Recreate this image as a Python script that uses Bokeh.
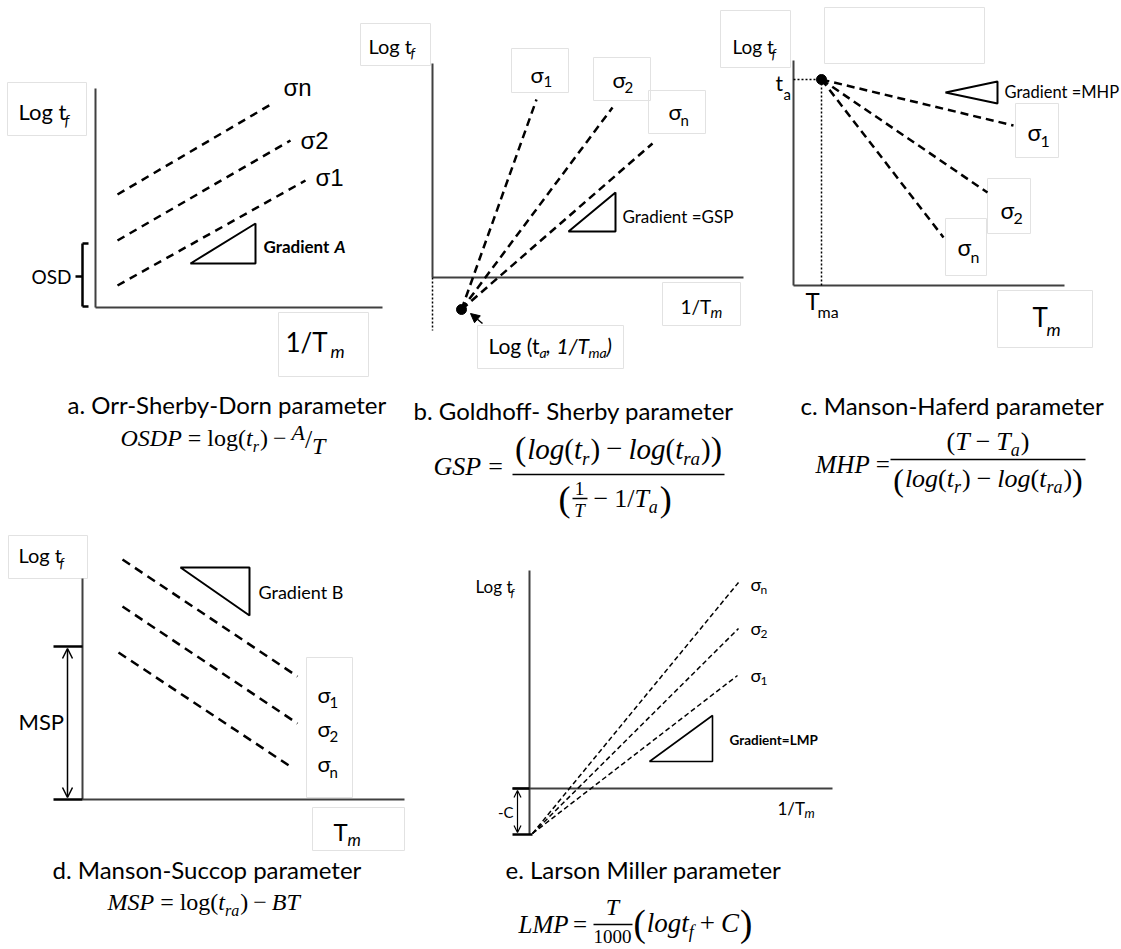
from bokeh.plotting import figure
from bokeh.models import Range1d, ColumnDataSource, Arrow, NormalHead, OpenHead
from bokeh.core.properties import value
from bokeh.embed import file_html
from bokeh.resources import INLINE

# ------------------------------------------------------------------
# Diagram geometry (reference pixel space: x right, y down)
# ------------------------------------------------------------------
# axes: (x0, y0, x1, y1)
AXES_X0 = [95, 95, 432, 432, 793, 793, 82, 82, 529, 512]
AXES_Y0 = [88, 307, 63, 277, 60, 285, 578, 799, 570, 788]
AXES_X1 = [95, 382, 432, 743, 793, 1064, 82, 404, 529, 832]
AXES_Y1 = [307, 307, 277, 277, 285, 285, 799, 799, 834, 788]

# a. Orr-Sherby-Dorn : parallel iso-stress lines (sigma1, sigma2, sigma_n)
A_X0 = [117, 117, 117]
A_Y0 = [285, 240, 194]
A_X1 = [305, 290, 272]
A_Y1 = [180, 140, 103]
A_TRI_X = [190, 255, 255]
A_TRI_Y = [263, 223, 263]

# b. Goldhoff-Sherby : lines converging at (1/Tma, log ta)
B_ORIGIN = (461, 309)
B_X1 = [536, 612, 652]
B_Y1 = [99, 107, 143]
B_TRI_X = [568, 615, 615]
B_TRI_Y = [231, 192, 231]

# c. Manson-Haferd : lines diverging from (Tma, ta)
C_ORIGIN = (821, 79)
C_X1 = [1013, 987, 943]
C_Y1 = [125, 192, 237]
C_TRI_X = [945, 997, 997]
C_TRI_Y = [92, 81, 103]

# d. Manson-Succop : parallel descending lines
D_X0 = [122, 122, 118]
D_Y0 = [559, 606, 652]
D_X1 = [297, 297, 293]
D_Y1 = [676, 723, 768]
D_TRI_X = [180, 249, 249]
D_TRI_Y = [567, 567, 615]

# e. Larson-Miller : lines converging at (0, -C)
E_ORIGIN = (532, 833)
E_X1 = [738, 738, 737]
E_Y1 = [582, 628, 675]
E_TRI_X = [649, 712, 712]
E_TRI_Y = [761, 715, 761]

# faint text-box outlines (left, right, top, bottom)
BOX_L = [7, 278, 360, 511, 593, 648, 477, 662, 720, 824, 1015, 987, 945, 997, 8, 306, 312]
BOX_R = [86, 368, 430, 568, 650, 705, 623, 740, 790, 984, 1058, 1030, 986, 1092, 87, 352, 404]
BOX_T = [82, 312, 23, 48, 57, 90, 325, 282, 10, 7, 103, 178, 218, 290, 535, 657, 807]
BOX_B = [135, 376, 65, 92, 100, 133, 368, 325, 67, 63, 157, 233, 275, 347, 578, 797, 850]

CAPTIONS = ["a. Orr-Sherby-Dorn parameter", "b. Goldhoff- Sherby parameter",
            "c. Manson-Haferd parameter", "d. Manson-Succop parameter",
            "e. Larson Miller parameter"]
CAPTION_X = [67, 413, 800, 52, 505]
CAPTION_Y = [413, 419, 414, 878, 878]

SANS = "Lato"
SERIF = "Liberation Serif"
ARIAL = "Liberation Sans"
INK = "black"
AXIS_INK = "#404040"
BOX_INK = "#e2e2e2"
# distance (in em) from the alphabetic baseline up to the middle of the em box
MID = {SANS: 0.387, SERIF: 0.34, ARIAL: 0.35}

p = figure(width=1121, height=949, x_range=Range1d(0, 1121), y_range=Range1d(949, 0),
           output_backend="svg", toolbar_location=None, min_border=0,
           x_axis_type=None, y_axis_type=None)
p.grid.visible = False
p.outline_line_color = None
p.background_fill_color = "white"
p.border_fill_color = "white"

# boxes
p.quad(left=BOX_L, right=BOX_R, top=BOX_T, bottom=BOX_B, fill_color=None,
       line_color=BOX_INK, line_width=1)

# axes
p.segment(x0=AXES_X0, y0=AXES_Y0, x1=AXES_X1, y1=AXES_Y1, line_color=AXIS_INK, line_width=2)

# dashed iso-stress lines
p.segment(x0=A_X0, y0=A_Y0, x1=A_X1, y1=A_Y1, line_color=INK, line_width=2.5, line_dash="8 6")
p.segment(x0=[B_ORIGIN[0]] * 3, y0=[B_ORIGIN[1]] * 3, x1=B_X1, y1=B_Y1,
          line_color=INK, line_width=2.5, line_dash="8 5")
p.segment(x0=[C_ORIGIN[0]] * 3, y0=[C_ORIGIN[1]] * 3, x1=C_X1, y1=C_Y1,
          line_color=INK, line_width=2.5, line_dash="8 5")
p.segment(x0=D_X0, y0=D_Y0, x1=D_X1, y1=D_Y1, line_color=INK, line_width=2.5, line_dash="9 6")
p.segment(x0=[E_ORIGIN[0]] * 3, y0=[E_ORIGIN[1]] * 3, x1=E_X1, y1=E_Y1,
          line_color=INK, line_width=1.5, line_dash="5 3")

# gradient triangles
for tx, ty, lw in [(A_TRI_X, A_TRI_Y, 2), (B_TRI_X, B_TRI_Y, 2), (C_TRI_X, C_TRI_Y, 2),
                   (D_TRI_X, D_TRI_Y, 2), (E_TRI_X, E_TRI_Y, 1.6)]:
    p.patch(x=tx + [tx[0]], y=ty + [ty[0]], fill_color=None, fill_alpha=0,
            line_color=INK, line_width=lw)

# dotted guides
p.segment(x0=[432, 793, 821], y0=[277, 79, 79], x1=[432, 821, 821], y1=[330, 79, 285],
          line_color=INK, line_width=1.5, line_dash="2 2")

# origin dots
p.scatter(x=[B_ORIGIN[0], C_ORIGIN[0]], y=[B_ORIGIN[1], C_ORIGIN[1]], size=10,
          marker="circle", color=INK)

# OSD brace, MSP and -C extent ticks
p.segment(x0=[82, 82, 82, 75, 53, 53, 512, 512],
          y0=[243, 243, 306, 276, 646, 799, 788, 834],
          x1=[82, 88, 88, 82, 82, 82, 529, 532],
          y1=[306, 243, 306, 276, 646, 799, 788, 834],
          line_color=INK, line_width=2.5)

# arrows
p.add_layout(Arrow(end=NormalHead(size=9, fill_color=INK, line_color=INK),
                   x_start=482, y_start=323, x_end=470, y_end=313, line_width=1.5, line_color=INK))
p.add_layout(Arrow(start=OpenHead(size=10, line_width=1.5), end=OpenHead(size=10, line_width=1.5),
                   x_start=67, y_start=648, x_end=67, y_end=797, line_width=1.5, line_color=INK))
p.add_layout(Arrow(start=OpenHead(size=7, line_width=1.2), end=OpenHead(size=7, line_width=1.2),
                   x_start=517, y_start=790, x_end=517, y_end=832, line_width=1.2, line_color=INK))

# ------------------------------------------------------------------
# text (positions given as alphabetic baselines, converted to em-box middles)
# ------------------------------------------------------------------
TX, TY, TS, TF, TZ, TST, TA = [], [], [], [], [], [], []


def T(x, y, s, size, font=SANS, style="normal", align="left"):
    TX.append(x); TY.append(y - MID[font] * size); TS.append(s); TF.append(font)
    TZ.append(f"{size}px"); TST.append(style); TA.append(align)


ROMAN = {'l': .278, 'o': .5, 'g': .5, '(': .333, ')': .333, '=': .564, '−': .564,
         '/': .278, '1': .5, '0': .5, ' ': .25, '+': .564}
ITALIC = {'O': .722, 'S': .5, 'D': .722, 'P': .611, 'l': .278, 'o': .5, 'g': .5, 't': .278,
          'r': .389, 'a': .5, 'A': .611, 'T': .556, 'G': .722, 'M': .833, 'H': .722,
          'C': .667, 'B': .611, 'f': .278, 'm': .722}


def wid(s, it, size):
    tbl = ITALIC if it else ROMAN
    return sum(tbl.get(c, .5) for c in s) * size


def fwidth(parts):
    return sum(g + wid(s, it, z) for s, it, z, dy, g in parts)


def formula(x0, y0, parts):
    x = x0
    for s, it, z, dy, g in parts:
        x += g
        T(x, y0 + dy, s, z, SERIF, "italic" if it else "normal")
        x += wid(s, it, z)
    return x


# captions
for s, x, y in zip(CAPTIONS, CAPTION_X, CAPTION_Y):
    T(x, y, s, 24)

# --- panel a
T(18, 120, "Log t", 22); T(64, 125, "f", 15, style="italic")
T(315, 185, "σ1", 24, ARIAL); T(300, 148, "σ2", 24, ARIAL); T(283, 95, "σn", 24, ARIAL)
T(263, 253, "Gradient", 17, style="bold"); T(334, 253, "A", 17, style="bold italic")
T(71, 283, "OSD", 19, align="right")
T(285, 352, "1/T", 26); T(330, 357, "m", 18, style="italic")
formula(120, 446, [("OSDP", 1, 24, 0, 0), ("=", 0, 24, 0, 6), ("log(", 0, 24, 0, 6),
                   ("t", 1, 24, 0, 0), ("r", 1, 16, 5, 0), (")", 0, 24, 0, 1),
                   ("−", 0, 24, 0, 5), ("A", 1, 22, -7, 5), ("/", 0, 26, 2, 0),
                   ("T", 1, 24, 8, 0)])

# --- panel b
T(368, 53, "Log t", 20); T(410, 57, "f", 14, style="italic")
T(530, 83, "σ", 22); T(543, 87, "1", 15)
T(612, 88, "σ", 22); T(624, 93, "2", 15)
T(668, 120, "σ", 22); T(680, 125, "n", 15)
T(622, 223, "Gradient =GSP", 17)
T(488, 353, "Log (t", 21); T(539, 357, "a", 14, style="italic"); T(545, 353, ",", 21)
T(556, 353, "1/T", 21, style="italic"); T(588, 357, "ma", 14, style="italic")
T(606, 353, ")", 21, style="italic")
T(680, 313, "1/T", 19); T(710, 317, "m", 15, style="italic")
formula(433, 475, [("GSP", 1, 26, 0, 0), ("=", 0, 26, 0, 7)])
GSP_BAR = (512, 724, 474)
num = [("(", 0, 34, 2, 0), ("log", 1, 29, 0, 1), ("(", 0, 29, 0, 0), ("t", 1, 29, 0, 0),
       ("r", 1, 19, 6, 0), (")", 0, 29, 0, 1), ("−", 0, 29, 0, 6), ("log", 1, 29, 0, 6),
       ("(", 0, 29, 0, 0), ("t", 1, 29, 0, 0), ("ra", 1, 19, 6, 0), (")", 0, 29, 0, 1),
       (")", 0, 34, 2, 0)]
formula((GSP_BAR[0] + GSP_BAR[1]) / 2 - fwidth(num) / 2, 458, num)
DEN_Y = 507
x = formula(558, DEN_Y, [("(", 0, 36, 4, 0)])
T(x + 9, DEN_Y - 13, "1", 19, SERIF, "normal", "center")
T(x + 9, DEN_Y + 9, "T", 19, SERIF, "italic", "center")
SMALL_BAR = (x + 2, x + 17, DEN_Y - 9)
formula(x + 19, DEN_Y, [("−", 0, 26, 0, 4), ("1/", 0, 26, 0, 6), ("T", 1, 26, 0, 0),
                        ("a", 1, 18, 6, 0), (")", 0, 36, 4, 2)])

# --- panel c
T(732, 53, "Log t", 19); T(771, 58, "f", 14, style="italic")
T(775, 90, "t", 21); T(783, 99, "a", 15)
T(1027, 140, "σ", 23); T(1040, 147, "1", 16)
T(1000, 218, "σ", 23); T(1013, 224, "2", 16)
T(957, 255, "σ", 23); T(970, 262, "n", 16)
T(1004, 98, "Gradient =MHP", 16.5)
T(805, 309, "T", 24); T(817, 317, "ma", 16)
T(1032, 327, "T", 26); T(1046, 335, "m", 18, style="italic")
formula(815, 472, [("MHP", 1, 25, 0, 0), ("=", 0, 25, 0, 6)])
MHP_BAR = (890, 1085, 459)
mc = (MHP_BAR[0] + MHP_BAR[1]) / 2
mnum = [("(", 0, 26, 0, 0), ("T", 1, 26, 0, 0), ("−", 0, 26, 0, 6), ("T", 1, 26, 0, 6),
        ("a", 1, 18, 6, 0), (")", 0, 26, 0, 1)]
formula(mc - fwidth(mnum) / 2, 450, mnum)
mden = [("(", 0, 32, 3, 0), ("log", 1, 26, 0, 1), ("(", 0, 26, 0, 0), ("t", 1, 26, 0, 0),
        ("r", 1, 18, 6, 0), (")", 0, 26, 0, 1), ("−", 0, 26, 0, 6), ("log", 1, 26, 0, 6),
        ("(", 0, 26, 0, 0), ("t", 1, 26, 0, 0), ("ra", 1, 18, 6, 0), (")", 0, 26, 0, 1),
        (")", 0, 32, 3, 0)]
formula(mc - fwidth(mden) / 2, 487, mden)

# --- panel d
T(18, 562, "Log t", 20); T(59, 567, "f", 14, style="italic")
T(18, 730, "MSP", 22)
T(258, 598, "Gradient B", 18)
for sub, yb in [("1", 703), ("2", 737), ("n", 772)]:
    T(317, yb, "σ", 22); T(329, yb + 5, sub, 15)
T(333, 840, "T", 24); T(347, 846, "m", 17, style="italic")
formula(107, 910, [("MSP", 1, 24, 0, 0), ("=", 0, 24, 0, 6), ("log(", 0, 24, 0, 6),
                   ("t", 1, 24, 0, 0), ("ra", 1, 16, 5, 0), (")", 0, 24, 0, 1),
                   ("−", 0, 24, 0, 5), ("BT", 1, 24, 0, 5)])

# --- panel e
T(475, 593, "Log t", 17); T(510, 597, "f", 12, style="italic")
T(513, 817, "-C", 15, align="right")
for sub, yb in [("n", 590), ("2", 634), ("1", 681)]:
    T(750, yb, "σ", 18); T(760, yb + 4, sub, 12)
T(729, 745, "Gradient=LMP", 13.5, style="bold")
T(777, 815, "1/T", 17); T(804, 818, "m", 13, style="italic")
formula(518, 932, [("LMP", 1, 25, 0, 0), ("=", 0, 25, 0, 6)])
LMP_BAR = (593, 632, 924)
T(612, 915, "T", 24, SERIF, "italic", "center")
T(612, 942, "1000", 19, SERIF, "normal", "center")
formula(633, 932, [("(", 0, 37, 4, 0), ("logt", 1, 27, 0, 1), ("f", 1, 18, 6, 0),
                   ("+", 0, 27, 0, 6), ("C", 1, 27, 0, 6), (")", 0, 37, 4, 1)])

# fraction bars
bars = [GSP_BAR, SMALL_BAR, MHP_BAR, LMP_BAR]
p.segment(x0=[b[0] for b in bars], x1=[b[1] for b in bars],
          y0=[b[2] for b in bars], y1=[b[2] for b in bars], line_color=INK, line_width=1.5)

src = ColumnDataSource(dict(x=TX, y=TY, text=TS, font=TF, size=TZ, style=TST, align=TA))
p.text(x="x", y="y", text="text", text_font="font", text_font_size="size",
       text_font_style="style", text_align="align", text_baseline="middle",
       text_color=INK, source=src)

open("out.html", "w").write(file_html(p, INLINE))
